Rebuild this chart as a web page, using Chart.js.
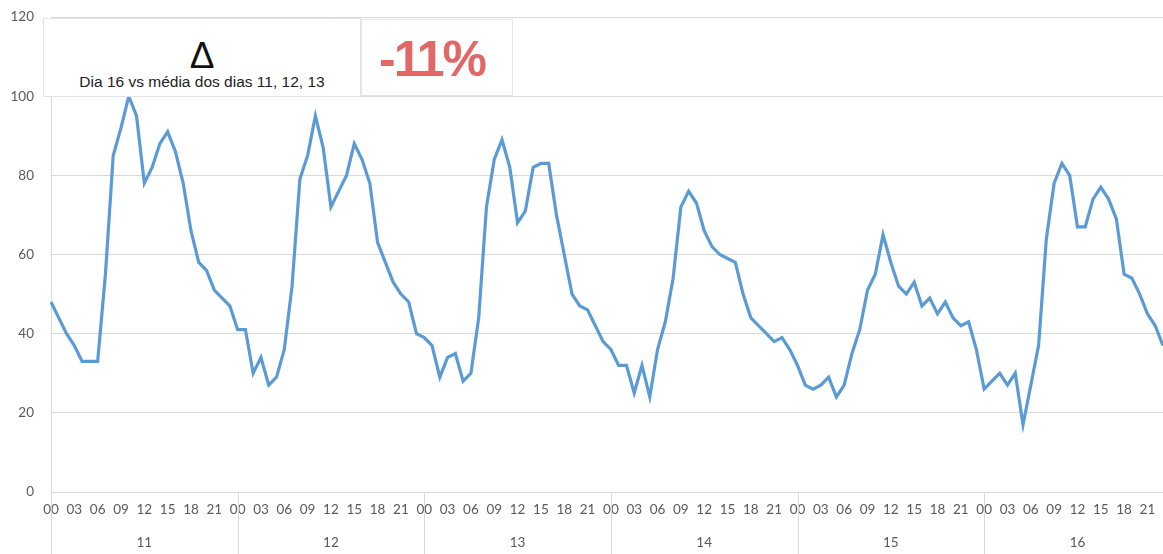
<!DOCTYPE html>
<html>
<head>
<meta charset="utf-8">
<script src="https://cdn.jsdelivr.net/npm/chart.js@4.4.1/dist/chart.umd.min.js"></script>
<style>
  body { margin: 0; background: #fff; }
  #wrap { position: relative; width: 1163px; height: 554px; }
  .box {
    position: absolute; background: #fff; border: 1px solid #e4e4e4;
    box-sizing: border-box; font-family: "Liberation Sans", Arial, sans-serif;
    text-align: center;
  }
  #delta { left: 43px; top: 18px; width: 318px; height: 79px; }
  #delta .sym { position: absolute; left: 0; right: 0; top: 18px; font-size: 37px; line-height: 37px; color: #111; }
  #delta .sub { position: absolute; left: 0; right: 0; top: 54px; font-size: 15.5px; line-height: 17px; color: #222; }
  #pct { left: 361px; top: 19px; width: 152px; height: 77px; }
  #pct span { position: absolute; left: 0; right: 0; top: 14px; font-size: 50px; line-height: 50px;
    font-weight: bold; color: #e26868; letter-spacing: -2px; padding-right: 10px; }
</style>
</head>
<body>
<div id="wrap">
  <canvas id="chart"></canvas>
  <div class="box" id="delta"><div class="sym">Δ</div><div class="sub">Dia 16 vs média dos dias 11, 12, 13</div></div>
  <div class="box" id="pct"><span>-11%</span></div>
</div>
<script>
const days = ['11', '12', '13', '14', '15', '16'];
const hours = ['00','01','02','03','04','05','06','07','08','09','10','11',
               '12','13','14','15','16','17','18','19','20','21','22','23'];

// valores por hora, um array por dia
const day11 = [48, 44, 40, 37, 33, 33, 33, 55, 85, 92, 100, 95, 78, 82, 88, 91, 86, 78, 66, 58, 56, 51, 49, 47];
const day12 = [41, 41, 30, 34, 27, 29, 36, 52, 79, 85, 95, 87, 72, 76, 80, 88, 84, 78, 63, 58, 53, 50, 48, 40];
const day13 = [39, 37, 29, 34, 35, 28, 30, 44, 72, 84, 89, 82, 68, 71, 82, 83, 83, 70, 60, 50, 47, 46, 42, 38];
const day14 = [36, 32, 32, 25, 32, 24, 36, 43, 54, 72, 76, 73, 66, 62, 60, 59, 58, 50, 44, 42, 40, 38, 39, 36];
const day15 = [32, 27, 26, 27, 29, 24, 27, 35, 41, 51, 55, 65, 58, 52, 50, 53, 47, 49, 45, 48, 44, 42, 43, 36];
const day16 = [26, 28, 30, 27, 30, 17, 27, 37, 64, 78, 83, 80, 67, 67, 74, 77, 74, 69, 55, 54, 50, 45, 42, 37];

const yTicks = [0, 20, 40, 60, 80, 100, 120];

const values = [].concat(day11, day12, day13, day14, day15, day16);
const labels = [];
days.forEach(d => hours.forEach(h => labels.push(d + ' ' + h)));

const gridGray = '#d9d9d9';
const tickGray = '#595959';
const axisFont = { family: 'Lato, "Open Sans", sans-serif', size: 13.5 };

// sem folga extra das escalas: a area do grafico vai ate a borda
const noPad = s => { s.paddingTop = 0; s.paddingBottom = 0; s.paddingLeft = 0; s.paddingRight = 0; };

// linhas verticais separando os dias, na area dos rotulos
const daySeparators = {
  id: 'daySeparators',
  afterDraw(chart) {
    const ctx = chart.ctx;
    const xs = chart.scales.x;
    ctx.save();
    ctx.strokeStyle = gridGray;
    ctx.lineWidth = 1;
    for (let i = 0; i < labels.length; i += 24) {
      const px = Math.round(xs.getPixelForValue(i)) + 0.5;
      ctx.beginPath();
      ctx.moveTo(px, chart.chartArea.bottom);
      ctx.lineTo(px, chart.height);
      ctx.stroke();
    }
    ctx.restore();
  }
};

new Chart(document.getElementById('chart'), {
  type: 'line',
  data: {
    labels: labels,
    datasets: [{
      data: values,
      borderColor: '#5b9bd5',
      borderWidth: 3.2,
      pointRadius: 0,
      pointHoverRadius: 0,
      tension: 0,
      fill: false
    }]
  },
  plugins: [daySeparators],
  options: {
    responsive: true,
    maintainAspectRatio: false,
    animation: false,
    layout: { autoPadding: false, padding: { top: 17, right: 0, left: 0, bottom: 0 } },
    plugins: { legend: { display: false }, tooltip: { enabled: false } },
    scales: {
      y: {
        min: 0, max: 120,
        afterBuildTicks: s => { s.ticks = yTicks.map(v => ({ value: v })); },
        afterFit: s => { s.width = 51; noPad(s); },
        grid: { color: gridGray, drawTicks: false },
        border: { display: true, color: gridGray },
        ticks: { color: tickGray, font: { ...axisFont, size: 13.5 }, padding: 17 }
      },
      x: {
        offset: false,
        weight: 0,
        afterFit: s => { s.height = 30; noPad(s); },
        grid: { display: false, drawTicks: false },
        border: { display: true, color: gridGray },
        ticks: {
          autoSkip: false, maxRotation: 0, minRotation: 0,
          color: tickGray, font: axisFont, padding: 10,
          callback: (v, i) => (i % 3 === 0 ? hours[i % 24] : '')
        }
      },
      x2: {
        type: 'category',
        position: 'bottom',
        offset: false,
        weight: 1,
        labels: labels,
        afterFit: s => { s.height = 32; noPad(s); },
        grid: { display: false, drawTicks: false },
        border: { display: false },
        ticks: {
          autoSkip: false, maxRotation: 0, minRotation: 0,
          color: tickGray, font: axisFont, padding: 13,
          callback: (v, i) => (i % 24 === 12 ? days[Math.floor(i / 24)] : '')
        }
      }
    }
  }
});
</script>
</body>
</html>
